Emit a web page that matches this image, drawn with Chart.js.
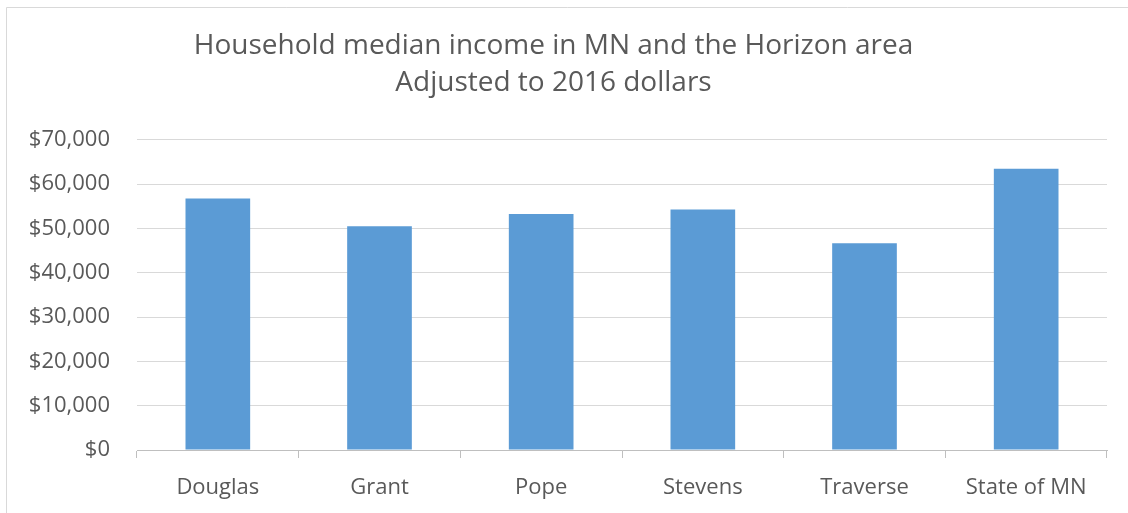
<!DOCTYPE html>
<html>
<head>
<meta charset="utf-8">
<script src="https://cdn.jsdelivr.net/npm/chart.js@4"></script>
<style>
    html, body { margin: 0; padding: 0; background: #fff; }
    #wrap { width: 1128px; height: 513px; position: relative; }
</style>
</head>
<body>
<div id="wrap"><canvas id="incomeChart" width="1128" height="513"></canvas></div>
<script>
const categories = ['Douglas', 'Grant', 'Pope', 'Stevens', 'Traverse', 'State of MN'];
const medianIncome = [56800, 50500, 53300, 54300, 46700, 63500];
const titleLines = ['Household median income in MN and the Horizon area', 'Adjusted to 2016 dollars'];
const yTicks = [0, 10000, 20000, 30000, 40000, 50000, 60000, 70000];

const textColor = '#595959';
const fontFamily = "'Open Sans', sans-serif";

// thin frame on top and left, like the cropped Excel chart border
const framePlugin = {
    id: 'frame',
    beforeDraw(chart) {
        const ctx = chart.ctx;
        ctx.save();
        ctx.fillStyle = '#fff';
        ctx.fillRect(0, 0, chart.width, chart.height);
        ctx.strokeStyle = '#d9d9d9';
        ctx.lineWidth = 1;
        ctx.beginPath();
        ctx.moveTo(6.5, chart.height);
        ctx.lineTo(6.5, 7.5);
        ctx.lineTo(chart.width, 7.5);
        ctx.stroke();
        ctx.restore();
    }
};

const ctx = document.getElementById('incomeChart').getContext('2d');
new Chart(ctx, {
    type: 'bar',
    data: {
        labels: categories,
        datasets: [{
            label: 'Median income',
            data: medianIncome,
            backgroundColor: '#5b9bd5',
            borderWidth: 0,
            categoryPercentage: 1,
            barPercentage: 0.4
        }]
    },
    options: {
        responsive: false,
        animation: false,
        layout: { padding: { left: 0, right: 21, top: 14, bottom: 0 } },
        plugins: {
            legend: { display: false },
            tooltip: { enabled: false },
            title: {
                display: true,
                text: titleLines,
                color: textColor,
                font: { family: fontFamily, size: 28, weight: 'normal', lineHeight: 1.32 },
                padding: { top: 14, bottom: 38 }
            }
        },
        scales: {
            x: {
                grid: {
                    offset: true,
                    drawOnChartArea: false,
                    tickLength: 8,
                    color: '#bfbfbf'
                },
                border: { color: '#bfbfbf' },
                ticks: {
                    color: textColor,
                    font: { family: fontFamily, size: 22 },
                    padding: 17,
                    maxRotation: 0
                },
                afterFit(scale) { scale.height = 63; }
            },
            y: {
                min: 0,
                max: 70000,
                grid: { color: '#d9d9d9', drawTicks: false },
                border: { display: false },
                afterBuildTicks(scale) {
                    scale.ticks = yTicks.map(v => ({ value: v }));
                },
                ticks: {
                    color: textColor,
                    font: { family: fontFamily, size: 22 },
                    padding: 27,
                    callback: v => '$' + v.toLocaleString('en-US')
                },
                afterFit(scale) { scale.width = 137; }
            }
        }
    },
    plugins: [framePlugin]
});
</script>
</body>
</html>
